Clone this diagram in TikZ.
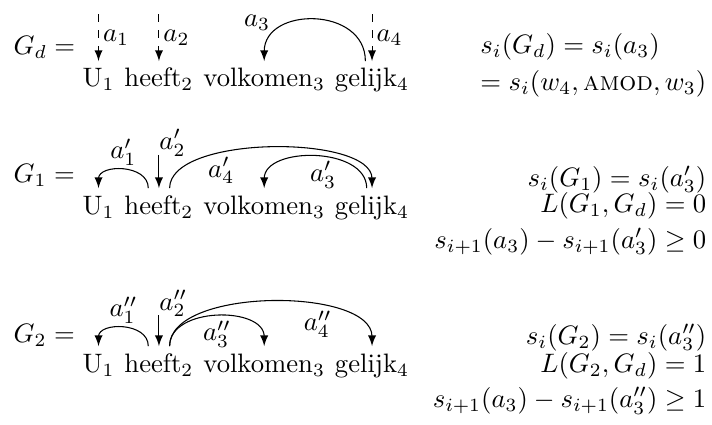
\documentclass[tikz,border=0pt]{standalone}
\usepackage{amsmath,amssymb}
\usepackage{tikz}
\usetikzlibrary{arrows,positioning}

\begin{document}
\begin{tikzpicture}[x=1pt,y=1pt,
    word/.style={inner xsep=0pt,inner ysep=2.5pt,text height=7pt,text depth=2pt},
    lbl/.style={inner sep=1.5pt},
    score/.style={anchor=base east}]
    \useasboundingbox (0,0) rectangle (267,159);

    % Sentence, once per graph
    \foreach \r/\y in {d/126.4,p/78.75,q/19.5} {
        \node[word,anchor=base west] (\r1) at (30.75,\y) {U$_1$};
        \node[word,base right=3.33pt of \r1] (\r2) {heeft$_2$};
        \node[word,base right=3.33pt of \r2] (\r3) {volkomen$_3$};
        \node[word,base right=3.33pt of \r3] (\r4) {gelijk$_4$};
    }

    % Graph names
    \node[anchor=base west] (gd) at (1.6,138.4) {$G_d =$};
    \node[anchor=base west] (g1) at (1.6,90.4) {$G_1 =$};
    \node[anchor=base west] (g2) at (1.6,30.75) {$G_2 =$};

    % Gold graph
    \foreach \i in {1,2,4} {
        \coordinate (dt\i) at ([yshift=17.6pt]d\i.north);
        \draw[dashed,-latex] (dt\i) -- node[lbl,right] {$a_\i$} (d\i.north);
    }
    \draw[-latex] ([xshift=-2.5pt]d4.north) to[out=90,in=90,looseness=1.39]
        node[lbl,pos=0.8,above left] {$a_3$} (d3.north);

    % First candidate
    \draw[-latex] ([xshift=-4pt]p2.north) to[out=90,in=90,looseness=1.25]
        node[lbl,above] {$a'_1$} (p1.north);
    \coordinate (pt2) at ([yshift=12.5pt]p2.north);
    \draw[-latex] (pt2) node[inner sep=0pt,anchor=base west,yshift=2pt] {$a'_2$} -- (p2.north);
    \draw[-latex] ([xshift=4pt]p2.north) to[out=90,in=90,looseness=0.68]
        node[lbl,pos=0.33,below] {$a'_4$} (p4.north);
    \draw[-latex] ([xshift=-2pt]p4.north) to[out=90,in=90,looseness=1.05]
        node[lbl,pos=0.45,below] {$a'_3$} (p3.north);

    % Second candidate
    \draw[-latex] ([xshift=-4pt]q2.north) to[out=90,in=90,looseness=1.25]
        node[lbl,above] {$a''_1$} (q1.north);
    \coordinate (qt2) at ([yshift=11.5pt]q2.north);
    \draw[-latex] (qt2) node[inner sep=0pt,anchor=base west,yshift=2pt] {$a''_2$} -- (q2.north);
    \draw[-latex] ([xshift=4pt]q2.north) to[out=90,in=90,looseness=1.08]
        node[lbl,below] {$a''_3$} (q3.north);
    \draw[-latex] ([xshift=4pt]q2.north) to[out=90,in=90,looseness=0.75]
        node[lbl,pos=0.66,below] {$a''_4$} (q4.north);

    % Scores
    \node[score] (sd2) at (268.4,125.25) {$= s_i(w_4,\textsc{amod},w_3)$};
    \node[anchor=base west] (sd1) at ([yshift=13.85pt]sd2.base west) {$s_i(G_d) = s_i(a_3)$};
    \node[score] (s1) at (268.4,89.25) {$s_i(G_1) = s_i(a'_3)$};
    \node[score] (l1) at (268.4,79.5) {$L(G_1,G_d) = 0$};
    \node[score] (m1) at (268.4,66) {$s_{i+1}(a_3) - s_{i+1}(a'_3) \geq 0$};
    \node[score] (s2) at (268.4,30) {$s_i(G_2) = s_i(a''_3)$};
    \node[score] (l2) at (268.4,19.3) {$L(G_2,G_d) = 1$};
    \node[score] (m2) at (268.4,6.2) {$s_{i+1}(a_3) - s_{i+1}(a''_3) \geq 1$};
\end{tikzpicture}
\end{document}
